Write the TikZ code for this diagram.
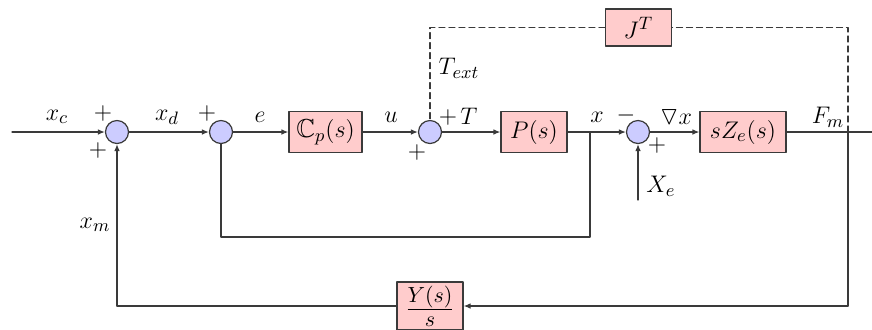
\documentclass[tikz,border=0pt]{standalone}
\usepackage{amssymb}
\usetikzlibrary{arrows.meta,calc,positioning}
\definecolor{blkPink}{HTML}{FFCCCC}
\definecolor{sumBlue}{HTML}{CCCCFF}
\definecolor{blkLine}{HTML}{3A3A3A}
\begin{document}
\begin{tikzpicture}[x=0.5pt,y=-0.5pt,>={Latex[length=3.5pt,width=2.8pt]},line cap=round,line join=round]
\useasboundingbox (0,0) rectangle (872,329);
\clip (0,0) rectangle (872,329);
\path[fill=white] (0,0) rectangle (872,329);
\tikzset{blk/.style={draw=blkLine,fill=blkPink,line width=0.6pt,minimum width=33pt,minimum height=20.5pt,inner sep=0pt,font=\fontsize{13}{15}\selectfont},sumnode/.style={circle,draw=blkLine,fill=sumBlue,line width=0.6pt,minimum size=11.5pt,inner sep=0pt},sig/.style={draw=blkLine,line width=0.6pt},lbl/.style={font=\fontsize{13}{15}\selectfont,inner sep=0pt}}
% blocks and summing points
\node[sumnode] (s1) at (117,132) {};
\node[sumnode] (s2) at (221,132) {};
\node[blk,minimum width=36.5pt] (cp) at (325.5,132) {$\mathbb{C}_p(s)$};
\node[sumnode] (s3) at (430,132) {};
\node[blk] (ps) at (534,132) {$P(s)$};
\node[sumnode] (s4) at (638,132) {};
\node[blk,minimum width=43pt] (sz) at (743,132) {$sZ_e(s)$};
\node[blk,minimum height=18.5pt] (jt) at (638.5,27.5) {$J^T$};
\node[blk,minimum height=24pt,font=\fontsize{15}{17}\selectfont] (ys) at (430,306) {$\frac{Y(s)}{s}$};
% corner points
\coordinate (in) at (12,132); \coordinate (out) at (872,132);
\coordinate (fm) at (848,132); \coordinate (br) at (590,132);
\coordinate (xe) at (638,200);
\coordinate (tr) at (848,27.5); \coordinate (tl) at (430,27.5);
\coordinate (bl) at (221,237); \coordinate (bb) at (590,237);
\coordinate (yr) at (848,306); \coordinate (yl) at (117,306);
% signals
\draw[sig,->] (in) -- (s1); \draw[sig,->] (s1) -- (s2); \draw[sig,->] (s2) -- (cp);
\draw[sig,->] (cp) -- (s3); \draw[sig,->] (s3) -- (ps); \draw[sig] (ps) -- (br);
\draw[sig,->] (br) -- (s4); \draw[sig,->] (s4) -- (sz); \draw[sig] (sz) -- (out);
\draw[sig] (br) -- (bb) -- (bl) -- (s2);
\draw[sig,->] (xe) -- (s4);
\draw[sig] (fm) -- (yr); \draw[sig,->] (yr) -- (ys); \draw[sig] (ys) -- (yl); \draw[sig,->] (yl) -- (s1);
\draw[sig,dash pattern=on 3pt off 2pt] (fm) -- (tr) -- (jt);
\draw[sig,dash pattern=on 3pt off 2pt] (jt) -- (tl) -- (s3);
% labels
\node[lbl] (lxc) at (57,117) {$x_c$};
\node[lbl] (lp1) at (103,113) {$+$}; \node[lbl] (lp2) at (98,150) {$+$};
\node[lbl] (lxd) at (167,117) {$x_d$};
\node[lbl] (lp3) at (207,113) {$+$};
\node[lbl] (le) at (260,117) {$e$};
\node[lbl] (lu) at (391,117) {$u$};
\node[lbl] (lp4) at (417,152) {$+$}; \node[lbl] (lp5) at (448,117) {$+$};
\node[lbl] (lT) at (469,116) {$T$};
\node[lbl] (lText) at (459,68) {$T_{ext}$};
\node[lbl] (lx) at (597,117) {$x$};
\node[lbl] (lm) at (626,115) {$-$}; \node[lbl] (lp6) at (657,145) {$+$};
\node[lbl] (ldx) at (676,117) {$\triangledown x$};
\node[lbl] (lFm) at (828,117) {$F_m$};
\node[lbl] (lXe) at (661,186) {$X_e$};
\node[lbl] (lxm) at (95,225) {$x_m$};
\end{tikzpicture}
\end{document}
